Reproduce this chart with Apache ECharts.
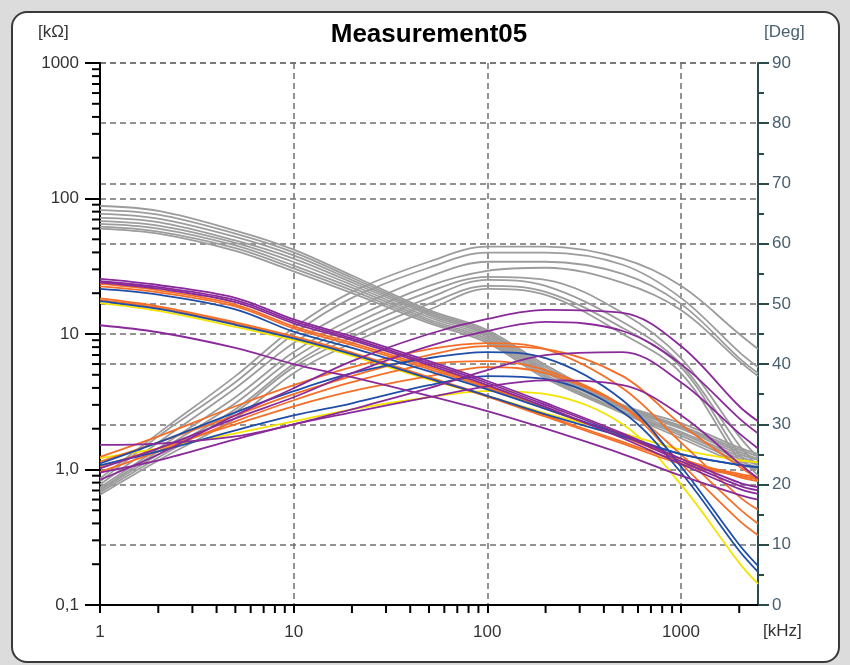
<!DOCTYPE html>
<html><head><meta charset="utf-8">
<script src="https://cdn.jsdelivr.net/npm/echarts@6/dist/echarts.min.js"></script>
<style>
html,body{margin:0;padding:0;background:#dcdcdc;width:850px;height:665px;overflow:hidden;}
#frame{position:absolute;left:11px;top:11px;width:825px;height:648px;background:#fff;border:2px solid #3a3a3a;border-radius:16px;}
#chart{position:absolute;left:0;top:0;width:850px;height:665px;}
</style></head><body>
<div id="frame"></div><div id="chart"></div>
<script>
// frequency points [kHz]
const FREQ = [1, 2, 5, 10, 20, 50, 100, 200, 500, 1000, 2000, 2500];

// tick positions
const X_MINOR_TICKS = [2,3,4,5,6,7,8,9,20,30,40,50,60,70,80,90,200,300,400,500,600,700,800,900,2000];
const Y_MINOR_TICKS = [0.2,0.3,0.4,0.5,0.6,0.7,0.8,0.9,2,3,4,5,6,7,8,9,20,30,40,50,60,70,80,90,200,300,400,500,600,700,800,900];

// gray measurements: impedance [kOhm]
const GRAY_Z1 = [88, 81, 58, 42, 27, 15, 10.7, 5.9, 3.0, 2.2, 1.45, 1.3];
const GRAY_Z2 = [82, 76, 55, 40, 26, 14.6, 10.4, 5.7, 2.95, 2.1, 1.4, 1.25];
const GRAY_Z3 = [77, 71, 52, 38, 25, 14.2, 10.1, 5.5, 2.9, 2.05, 1.35, 1.2];
const GRAY_Z4 = [72, 67, 49, 36, 24, 13.8, 9.8, 5.35, 2.85, 2.0, 1.3, 1.18];
const GRAY_Z5 = [68, 63, 47, 34, 23, 13.3, 9.5, 5.2, 2.8, 1.9, 1.25, 1.12];
const GRAY_Z6 = [65, 60, 45, 32, 22, 12.8, 9.2, 5.0, 2.7, 1.85, 1.2, 1.08];
const GRAY_Z7 = [62, 57, 43, 30.5, 21, 12.4, 8.9, 4.85, 2.65, 1.78, 1.15, 1.04];
const GRAY_Z8 = [60, 55, 41, 29, 20, 12, 8.6, 4.7, 2.6, 1.7, 1.1, 1.0];
// gray measurements: phase [Deg]
const GRAY_P1 = [21, 28.5, 38, 46, 52, 57, 59.5, 59.5, 57.5, 53, 45, 42.5];
const GRAY_P2 = [20.5, 28, 37, 45, 51, 56, 58.5, 58.5, 56.5, 51, 42, 39.5];
const GRAY_P3 = [20, 27, 36, 43.5, 49, 54.5, 57, 57, 55, 50, 41, 38.5];
const GRAY_P4 = [19.5, 26, 34.5, 42, 47.5, 53, 55.5, 56, 53.5, 49, 40.5, 38];
const GRAY_P5 = [19.2, 25.5, 33.5, 41, 46.5, 52, 54.5, 54, 48.5, 41, 28, 24.5];
const GRAY_P6 = [19, 25, 32.5, 40, 45.5, 51, 54, 53, 47, 40, 26.5, 23];
const GRAY_P7 = [18.7, 24.5, 32, 39.5, 44.5, 50, 53, 52, 46, 39.5, 25, 21.5];
const GRAY_P8 = [18.3, 24, 31, 38.5, 43.5, 49, 52.5, 51.5, 45, 38.5, 24, 20.5];

// purple measurements
const PURPLE_Z1 = [25.5, 23, 18.5, 12.8, 9.6, 6.3, 4.5, 3.1, 1.85, 1.2, 0.8, 0.74];
const PURPLE_Z2 = [24.5, 22.2, 17.8, 12.4, 9.3, 6.1, 4.35, 3.0, 1.8, 1.15, 0.76, 0.7];
const PURPLE_Z3 = [11.6, 10.3, 7.9, 6.0, 4.8, 3.5, 2.7, 2.0, 1.3, 0.9, 0.65, 0.6];
const PURPLE_Z4 = [24, 21.6, 17.2, 12, 9.0, 5.9, 4.2, 2.9, 1.7, 1.1, 0.72, 0.66];
const PURPLE_P1 = [20.8, 25, 31.5, 36, 40.5, 45, 47.5, 49, 48.5, 43, 33, 30.5];
const PURPLE_P2 = [22.7, 26, 31, 34.5, 38.5, 43, 45.5, 47, 45.5, 40, 31, 28.5];
const PURPLE_P3 = [26.6, 26.8, 28, 30, 32.5, 36, 39, 41.5, 42, 37, 28.5, 26];
const PURPLE_P4 = [22, 24, 27.5, 30, 32, 34.5, 36.3, 37.3, 36.5, 31.5, 23.5, 21];

// orange measurements
const ORANGE_Z1 = [23.4, 21, 16.5, 11.4, 8.6, 5.7, 4.1, 2.85, 1.75, 1.2, 0.88, 0.82];
const ORANGE_Z2 = [18.3, 16, 12.2, 9.6, 7.3, 4.8, 3.5, 2.5, 1.6, 1.15, 0.93, 0.88];
const ORANGE_Z3 = [22.5, 20.3, 16, 11, 8.3, 5.5, 4.0, 2.8, 1.75, 1.2, 0.9, 0.85];
const ORANGE_Z4 = [17.8, 15.6, 11.9, 9.4, 7.2, 4.7, 3.45, 2.45, 1.55, 1.1, 0.9, 0.85];
const ORANGE_P1 = [24.6, 28, 33, 36.5, 39.5, 42.5, 43.5, 42.5, 36, 27, 18, 15.8];
const ORANGE_P2 = [22.1, 25.5, 30.5, 34, 37, 40, 40.5, 39, 33, 23.5, 14, 11.6];
const ORANGE_P3 = [23.8, 27, 31.5, 35, 38, 41.5, 43, 42.5, 38, 30, 23, 21];
const ORANGE_P4 = [23, 26, 30, 33, 35.5, 38, 39.5, 38.5, 33, 25, 16, 13.5];

// blue measurements
const BLUE_Z1 = [21.5, 19.5, 15.2, 10.4, 7.9, 5.3, 3.9, 2.8, 1.8, 1.3, 1.08, 1.04];
const BLUE_Z2 = [17.5, 15.3, 11.7, 9.3, 7.1, 4.7, 3.5, 2.55, 1.75, 1.3, 1.08, 1.04];
const BLUE_P1 = [23.5, 27, 32, 35.5, 38.5, 41, 42, 41, 34, 23, 10, 6.5];
const BLUE_P2 = [23.2, 25.5, 29, 31.5, 33.5, 36.5, 38, 37.5, 32, 22, 9, 5.5];

// yellow measurement
const YELLOW_Z1 = [16.9, 14.8, 11.3, 9.0, 6.9, 4.6, 3.5, 2.6, 1.85, 1.4, 1.17, 1.13];
const YELLOW_P1 = [24.4, 26, 28.5, 30.5, 32.5, 34.5, 35.5, 35, 30, 20, 7, 3.5];

const GRAY = '#9c9c9c', PURPLE = '#8a2a9a', ORANGE = '#f46f28', BLUE = '#1f4ea8', YELLOW = '#f4e400';

function line(vals, axis, color) {
  return {
    type: 'line', yAxisIndex: axis, xAxisIndex: 0,
    data: FREQ.map((f, i) => [f, vals[i]]),
    smooth: 0.35, symbol: 'none', silent: true,
    lineStyle: { color: color, width: 1.8 }
  };
}

const series = [];
[GRAY_Z1,GRAY_Z2,GRAY_Z3,GRAY_Z4,GRAY_Z5,GRAY_Z6,GRAY_Z7,GRAY_Z8].forEach(v => series.push(line(v, 0, GRAY)));
[GRAY_P1,GRAY_P2,GRAY_P3,GRAY_P4,GRAY_P5,GRAY_P6,GRAY_P7,GRAY_P8].forEach(v => series.push(line(v, 1, GRAY)));
[YELLOW_Z1].forEach(v => series.push(line(v, 0, YELLOW)));
[YELLOW_P1].forEach(v => series.push(line(v, 1, YELLOW)));
[ORANGE_Z1,ORANGE_Z2,ORANGE_Z3,ORANGE_Z4].forEach(v => series.push(line(v, 0, ORANGE)));
[ORANGE_P1,ORANGE_P2,ORANGE_P3,ORANGE_P4].forEach(v => series.push(line(v, 1, ORANGE)));
[BLUE_Z1,BLUE_Z2].forEach(v => series.push(line(v, 0, BLUE)));
[BLUE_P1,BLUE_P2].forEach(v => series.push(line(v, 1, BLUE)));
[PURPLE_Z1,PURPLE_Z2,PURPLE_Z3,PURPLE_Z4].forEach(v => series.push(line(v, 0, PURPLE)));
[PURPLE_P1,PURPLE_P2,PURPLE_P3,PURPLE_P4].forEach(v => series.push(line(v, 1, PURPLE)));

// minor ticks on log axes
series.push({
  type: 'custom', xAxisIndex: 0, yAxisIndex: 0, clip: false, silent: true, z: 5,
  data: X_MINOR_TICKS.map(v => [v, 0.1]),
  renderItem: (params, api) => {
    const p = api.coord([api.value(0), api.value(1)]);
    return { type: 'line', shape: { x1: p[0], y1: p[1], x2: p[0], y2: p[1] + 8 }, style: { stroke: '#000', lineWidth: 2 } };
  }
});
series.push({
  type: 'custom', xAxisIndex: 0, yAxisIndex: 0, clip: false, silent: true, z: 5,
  data: Y_MINOR_TICKS.map(v => [1, v]),
  renderItem: (params, api) => {
    const p = api.coord([api.value(0), api.value(1)]);
    return { type: 'line', shape: { x1: p[0] - 8, y1: p[1], x2: p[0], y2: p[1] }, style: { stroke: '#000', lineWidth: 2 } };
  }
});

const FONT = 'Liberation Sans, Arial, sans-serif';
const dashed = { show: true, lineStyle: { color: '#707070', width: 1.5, type: [6, 4] } };

const chart = echarts.init(document.getElementById('chart'), null, { renderer: 'canvas' });
chart.setOption({
  animation: false,
  backgroundColor: 'transparent',
  title: {
    text: 'Measurement05', left: 424, top: 17, textAlign: 'center',
    textStyle: { fontFamily: FONT, fontWeight: 'bold', fontSize: 26, color: '#000' }
  },
  graphic: [
    { type: 'text', left: 38, top: 24, style: { text: '[kΩ]', font: '17px ' + FONT, fill: '#333' } },
    { type: 'text', left: 764, top: 24, style: { text: '[Deg]', font: '17px ' + FONT, fill: '#4a6070' } },
    { type: 'text', left: 763, top: 623, style: { text: '[kHz]', font: '17px ' + FONT, fill: '#333' } }
  ],
  grid: { left: 100, right: 92, top: 63, bottom: 60, containLabel: false },
  xAxis: {
    type: 'log', logBase: 10, min: 1, max: 2500,
    axisLine: { show: true, lineStyle: { color: '#000', width: 2 } },
    axisTick: { show: true, length: 8, lineStyle: { color: '#000', width: 2 } },
    axisLabel: {
      margin: 19, fontFamily: FONT, fontSize: 17, color: '#333', showMaxLabel: false,
      formatter: v => { const r = Math.round(v); return ([1,10,100,1000].includes(r) && Math.abs(v - r) < 1e-6) ? String(r) : ''; }
    },
    splitLine: dashed,
    minorTick: { show: false }, minorSplitLine: { show: false }
  },
  yAxis: [
    {
      type: 'log', logBase: 10, min: 0.1, max: 1000, position: 'left',
      axisLine: { show: true, lineStyle: { color: '#000', width: 2 } },
      axisTick: { show: true, length: 15, lineStyle: { color: '#000', width: 2 } },
      axisLabel: {
        margin: 21, fontFamily: FONT, fontSize: 17, color: '#333',
        formatter: v => {
          if (Math.abs(v - 1) < 1e-9) return '1,0';
          if (Math.abs(v - 0.1) < 1e-9) return '0,1';
          return String(Math.round(v));
        }
      },
      splitLine: dashed
    },
    {
      type: 'value', min: 0, max: 90, interval: 10, position: 'right',
      axisLine: { show: true, lineStyle: { color: '#2b4b4b', width: 2 } },
      axisTick: { show: true, length: 11, lineStyle: { color: '#2b4b4b', width: 2 } },
      minorTick: { show: true, splitNumber: 2, length: 6, lineStyle: { color: '#2b4b4b', width: 2 } },
      axisLabel: { margin: 14, fontFamily: FONT, fontSize: 17, color: '#4a6070' },
      splitLine: dashed
    }
  ],
  series: series
});
</script>
</body></html>
